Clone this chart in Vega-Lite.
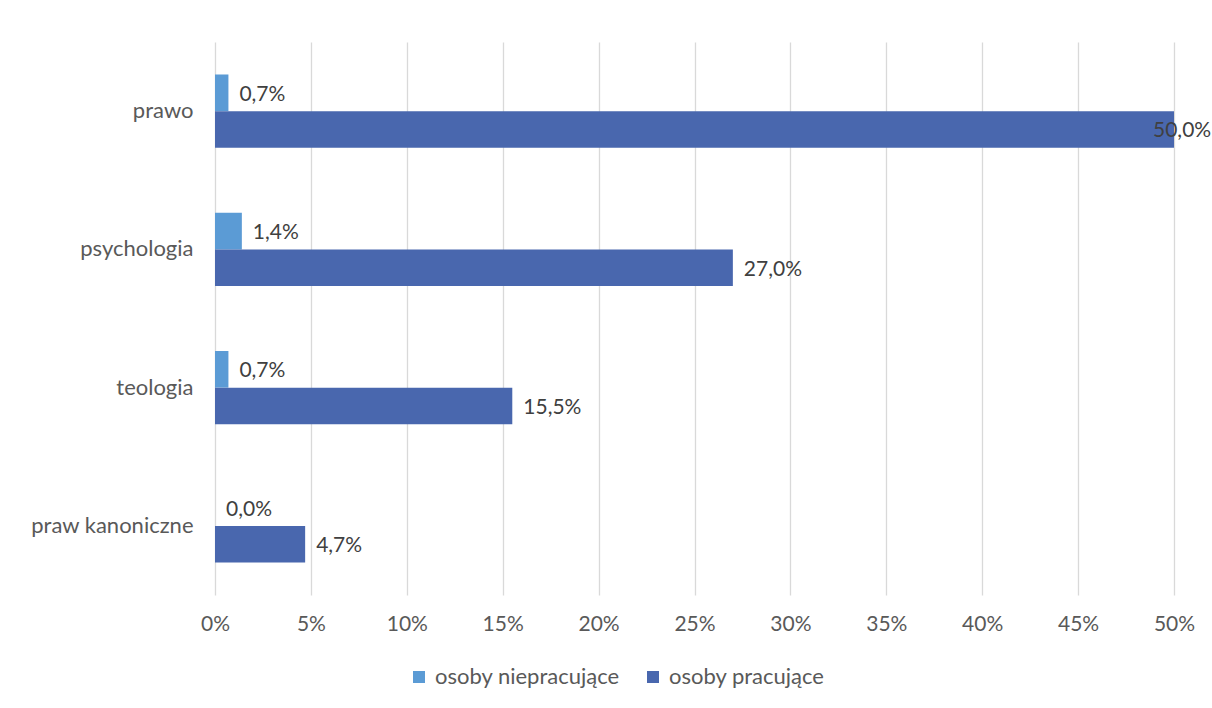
{
  "$schema": "https://vega.github.io/schema/vega-lite/v6.json",
  "width": 959,
  "height": 553,
  "autosize": {"type": "none"},
  "padding": {"left": 215, "top": 42, "right": 38, "bottom": 113},
  "background": "white",
  "config": {
    "view": {"stroke": null},
    "font": "Lato",
    "locale": {"number": {"decimal": ",", "thousands": " ", "grouping": [3], "currency": ["", " zł"]}}
  },
  "data": {
    "values": [
      {"kat": "prawo", "grupa": "osoby niepracujące", "v": 0.007},
      {"kat": "prawo", "grupa": "osoby pracujące", "v": 0.5},
      {"kat": "psychologia", "grupa": "osoby niepracujące", "v": 0.014},
      {"kat": "psychologia", "grupa": "osoby pracujące", "v": 0.27},
      {"kat": "teologia", "grupa": "osoby niepracujące", "v": 0.007},
      {"kat": "teologia", "grupa": "osoby pracujące", "v": 0.155},
      {"kat": "praw kanoniczne", "grupa": "osoby niepracujące", "v": 0.0},
      {"kat": "praw kanoniczne", "grupa": "osoby pracujące", "v": 0.047}
    ]
  },
  "encoding": {
    "y": {
      "field": "kat",
      "type": "nominal",
      "sort": ["prawo", "psychologia", "teologia", "praw kanoniczne"],
      "scale": {"paddingInner": 0.47, "paddingOuter": 0.235},
      "axis": {"title": null, "ticks": false, "domain": false, "labelFontSize": 22, "labelColor": "#595959", "labelPadding": 22}
    },
    "yOffset": {
      "field": "grupa",
      "type": "nominal",
      "sort": ["osoby niepracujące", "osoby pracujące"],
      "scale": {"paddingInner": 0, "paddingOuter": 0}
    },
    "x": {
      "field": "v",
      "type": "quantitative",
      "scale": {"domain": [0, 0.5], "nice": false},
      "axis": {
        "title": null,
        "values": [0, 0.05, 0.1, 0.15, 0.2, 0.25, 0.3, 0.35, 0.4, 0.45, 0.5],
        "format": ".0%",
        "grid": true,
        "gridColor": "#D9D9D9",
        "gridWidth": 1.3,
        "domain": false,
        "ticks": false,
        "labelFlush": false,
        "labelFontSize": 21,
        "labelColor": "#595959",
        "labelPadding": 18
      }
    }
  },
  "layer": [
    {
      "mark": {"type": "bar"},
      "encoding": {
        "color": {
          "field": "grupa",
          "type": "nominal",
          "sort": ["osoby niepracujące", "osoby pracujące"],
          "scale": {"domain": ["osoby niepracujące", "osoby pracujące"], "range": ["#5B9BD5", "#4967AE"]},
          "legend": {
            "title": null,
            "orient": "none",
            "direction": "horizontal",
            "legendX": 193,
            "legendY": 624,
            "symbolType": "square",
            "symbolSize": 144,
            "symbolStrokeWidth": 0,
            "labelFontSize": 22,
            "labelLimit": 0,
            "labelColor": "#595959",
            "columnPadding": 22,
            "labelOffset": 5
          }
        }
      }
    },
    {
      "transform": [{"filter": "datum.v < 0.5"}],
      "mark": {"type": "text", "align": "left", "baseline": "middle", "dx": 11, "dy": 2, "fontSize": 21, "color": "#404040"},
      "encoding": {"text": {"field": "v", "type": "quantitative", "format": ".1%"}}
    },
    {
      "transform": [{"filter": "datum.v >= 0.5"}],
      "mark": {"type": "text", "align": "left", "baseline": "middle", "dx": -21, "dy": 2, "fontSize": 21, "color": "#404040"},
      "encoding": {"text": {"field": "v", "type": "quantitative", "format": ".1%"}}
    }
  ]
}
